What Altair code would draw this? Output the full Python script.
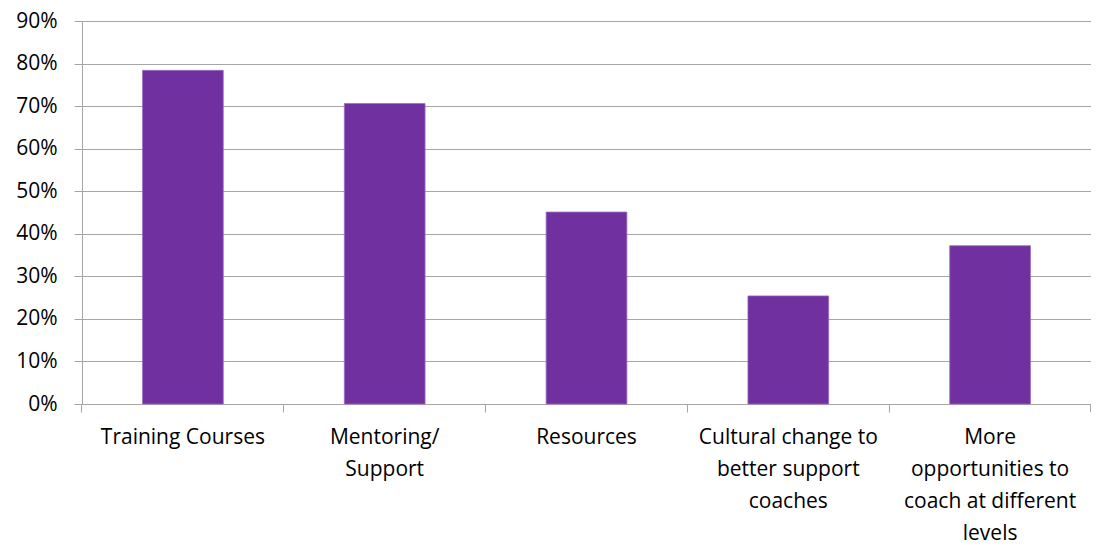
import altair as alt
import pandas as pd

categories = [
    "Training Courses",
    "Mentoring/ Support",
    "Resources",
    "Cultural change to better support coaches",
    "More opportunities to coach at different levels",
]
label_lines = [
    ["Training Courses"],
    ["Mentoring/", "Support"],
    ["Resources"],
    ["Cultural change to", "better support", "coaches"],
    ["More", "opportunities to", "coach at different", "levels"],
]
values = [0.784, 0.706, 0.451, 0.254, 0.372]

df = pd.DataFrame({"category": categories, "value": values})

label_map = "{" + ", ".join(
    "'" + c + "': [" + ", ".join("'" + l + "'" for l in lines) + "]"
    for c, lines in zip(categories, label_lines)
) + "}"
label_expr = label_map + "[datum.value]"

W, H = 1009, 383
FONT = "Open Sans"
GRAY = "#a6a6a6"

bars = alt.Chart(df).mark_bar(color="#7030A0", stroke="#9b6cc4", strokeWidth=0.8).encode(
    x=alt.X(
        "category:N",
        sort=categories,
        scale=alt.Scale(paddingInner=0.6, paddingOuter=0.3),
        axis=alt.Axis(
            title=None,
            labelAngle=0,
            labelExpr=label_expr,
            labelFont=FONT,
            labelFontSize=21,
            labelColor="#000000",
            labelLineHeight=32,
            labelPadding=14,
            labelBaseline="top",
            labelOverlap=False,
            labelLimit=300,
            bandPosition=-0.75,
            tickSize=8,
            tickColor=GRAY,
            domainColor=GRAY,
            grid=False,
        ),
    ),
    y=alt.Y(
        "value:Q",
        scale=alt.Scale(domain=[0, 0.9]),
        axis=alt.Axis(
            title=None,
            format=".0%",
            values=[i / 10 for i in range(10)],
            labelFont=FONT,
            labelFontSize=21,
            labelColor="#000000",
            labelPadding=17,
            tickSize=8,
            tickColor=GRAY,
            domainColor=GRAY,
            gridColor=GRAY,
            gridWidth=1,
        ),
    ),
)

end_tick = alt.Chart(df).mark_rule(color=GRAY).encode(
    x=alt.value(W), y=alt.value(H), y2=alt.value(H + 8)
)

chart = alt.layer(bars, end_tick).properties(
    width=W,
    height=H,
    padding={"left": 74, "top": 13, "right": 0, "bottom": 140},
    autosize=alt.AutoSizeParams(type="none"),
).configure_view(stroke=None).configure(background="#ffffff")

chart.save("out.html", embed_options={"renderer": "svg", "actions": False})
